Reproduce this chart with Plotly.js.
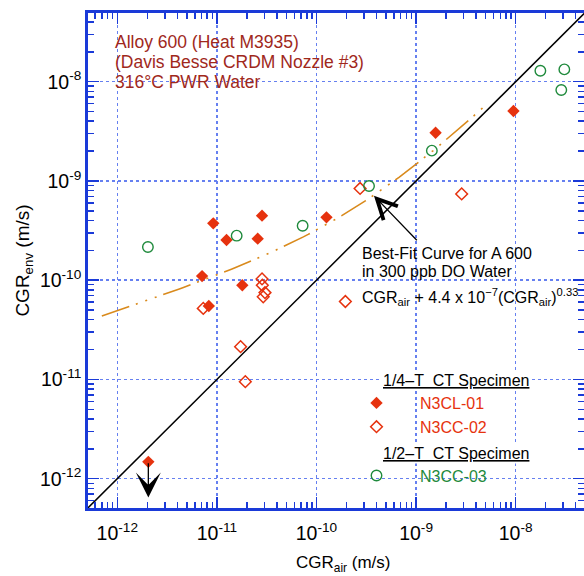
<!DOCTYPE html>
<html>
<head>
<meta charset="utf-8">
<script src="https://cdn.plot.ly/plotly-3.0.1.min.js"></script>
<style>
  html, body { margin: 0; padding: 0; background: #fff; }
  #chart { width: 584px; height: 576px; }
</style>
</head>
<body>
<div id="chart"></div>
<script>
// Crack growth rates, environment vs. air (m/s)
// 1/4-T CT specimen N3CL-01 (first point is an upper bound)
const n3cl01Air = [2.05e-12, 7.1e-12, 8.3e-12, 9.2e-12, 1.25e-11, 1.8e-11, 2.57e-11, 2.84e-11, 1.26e-10, 1.57e-9, 9.5e-9];
const n3cl01Env = [1.48e-12, 1.10e-10, 5.5e-11, 3.74e-10, 2.54e-10, 8.9e-11, 2.62e-10, 4.47e-10, 4.3e-10, 3.06e-9, 5.07e-9];
// 1/4-T CT specimen N3CC-02
const n3cc02Air = [7.3e-12, 2.84e-11, 2.86e-11, 3.04e-11, 2.92e-11, 1.73e-11, 1.93e-11, 2.74e-10, 2.87e-9, 1.95e-10];
const n3cc02Env = [5.2e-11, 1.03e-10, 8.9e-11, 7.5e-11, 6.8e-11, 2.14e-11, 9.5e-12, 8.4e-10, 7.4e-10, 6.1e-11];
// 1/2-T CT specimen N3CC-03
const n3cc03Air = [2.03e-12, 1.58e-11, 7.26e-11, 3.37e-10, 1.44e-9, 1.77e-8, 3.08e-8, 2.87e-8];
const n3cc03Env = [2.16e-10, 2.81e-10, 3.54e-10, 8.9e-10, 2.02e-9, 1.29e-8, 1.33e-8, 8.25e-9];

// Reference line CGRenv = CGRair
const unityLine = [1e-13, 1e-7];

// Best-fit curve for Alloy 600 in 300 ppb DO water: CGRair + A*(CGRair)^n
const fitCoeff = 4.4e-7;
const fitExp = 0.33;
const fitRange = [7e-13, 5e-9];

// Decade tick labels
const tickValues = [1e-12, 1e-11, 1e-10, 1e-9, 1e-8];
const tickLabels = ['10<sup>-12</sup>', '10<sup>-11</sup>', '10<sup>-10</sup>', '10<sup>-9</sup>', '10<sup>-8</sup>'];

// Text blocks
const xTitle = 'CGR<sub>air</sub> (m/s)';
const yTitle = 'CGR<sub>env</sub> (m/s)';
const conditionLines = ['Alloy 600 (Heat M3935)', '(Davis Besse CRDM Nozzle #3)', '316\u00b0C PWR Water'];
const fitLines = ['Best-Fit Curve for A 600', 'in 300 ppb DO Water'];
const fitEquation = 'CGR<sub>air</sub> + 4.4 x 10<sup>\u22127</sup>(CGR<sub>air</sub>)<sup>0.33</sup>';
const groupTitles = ['1/4\u2013T\u00a0 CT Specimen', '1/2\u2013T\u00a0 CT Specimen'];

const RED = '#e6320e';
const GREEN = '#1f8a3c';
const ORANGE = '#d98a1c';
const MAROON = '#a0281c';
const AXIS_BLUE = '#1a3ad8';
const GRID_BLUE = '#6680f0';
const FONT = 'Liberation Sans, Arial, sans-serif';

const fitX = [];
const fitY = [];
const nFit = 80;
const l0 = Math.log10(fitRange[0]), l1 = Math.log10(fitRange[1]);
for (let i = 0; i <= nFit; i++) {
  const x = Math.pow(10, l0 + (l1 - l0) * i / nFit);
  fitX.push(x);
  fitY.push(x + fitCoeff * Math.pow(x, fitExp));
}

const ul = s => '<span style="text-decoration:underline">' + s + '</span>';
const col = (c, s) => '<span style="color:' + c + '">' + s + '</span>';

const traces = [
  {
    x: unityLine, y: unityLine, mode: 'lines', type: 'scatter',
    line: { color: '#000', width: 1.5 }, showlegend: false, hoverinfo: 'skip'
  },
  {
    x: fitX, y: fitY, mode: 'lines', type: 'scatter',
    line: { color: ORANGE, width: 1.6, dash: '29px,7px,2px,8px,2px,8px,2px,7px' },
    showlegend: false, hoverinfo: 'skip'
  },
  {
    x: n3cl01Air, y: n3cl01Env, mode: 'markers', type: 'scatter',
    name: col(RED, 'N3CL-01'), legendgroup: 'quarter',
    marker: { symbol: 'diamond', size: 9.5, color: RED, line: { width: 0 } }
  },
  {
    x: n3cc02Air, y: n3cc02Env, mode: 'markers', type: 'scatter',
    name: col(RED, 'N3CC-02'), legendgroup: 'quarter',
    marker: { symbol: 'diamond-open', size: 9, color: RED, line: { width: 1.5, color: RED } }
  },
  {
    x: n3cc03Air, y: n3cc03Env, mode: 'markers', type: 'scatter',
    name: col(GREEN, 'N3CC-03'), legendgroup: 'half',
    marker: { symbol: 'circle-open', size: 10.5, color: GREEN, line: { width: 1.4, color: GREEN } }
  }
];

const axisCommon = {
  type: 'log',
  tickmode: 'array',
  tickvals: tickValues,
  ticktext: tickLabels,
  ticks: 'inside',
  ticklen: 11,
  tickwidth: 1.5,
  tickcolor: AXIS_BLUE,
  minor: { dtick: 'D1', ticks: 'inside', ticklen: 6, tickwidth: 1.5, tickcolor: AXIS_BLUE, showgrid: false },
  showline: true,
  linecolor: AXIS_BLUE,
  linewidth: 2.8,
  mirror: 'allticks',
  showgrid: true,
  gridcolor: GRID_BLUE,
  gridwidth: 1.5,
  griddash: 'dot',
  zeroline: false,
  tickfont: { family: FONT, size: 19.5, color: '#000' }
};

// plot area in pixels (for placing text boxes)
const PL = 88, PW = 496, PB = 508, PH = 495;
const px = v => (v - PL) / PW;
const py = v => (PB - v) / PH;

// white panels that mask the grid behind text blocks
const panel = (x0, x1, y0, y1) => ({
  type: 'rect', xref: 'paper', yref: 'paper', layer: 'between',
  x0: px(x0), x1: px(x1), y0: py(y1), y1: py(y0),
  fillcolor: '#fff', line: { width: 0 }
});

const textAnn = (text, x, y, size, color, extra) => Object.assign({
  xref: 'paper', yref: 'paper', x: px(x), y: py(y),
  xanchor: 'left', yanchor: 'middle', align: 'left', showarrow: false,
  text: text, font: { family: FONT, size: size, color: color }
}, extra || {});

const annotations = [];
// x-axis title, set a little lower than the default title slot
annotations.push(textAnn(xTitle, 342.5, 563.5, 17, '#000', { xanchor: 'center', align: 'center' }));
conditionLines.forEach((t, i) => annotations.push(textAnn(t, 113, 41.7 + 20.2 * i, 17.5, MAROON)));
annotations.push(textAnn(fitLines[0], 360, 253.3, 16, '#000'));
annotations.push(textAnn(fitLines[1], 360, 271.7, 16, '#000'));
annotations.push(textAnn(fitEquation, 360, 296.5, 16, '#000'));
annotations.push(textAnn(ul(groupTitles[0]), 381, 380, 16, '#000', { bgcolor: '#fff', borderpad: 1 }));
annotations.push(textAnn(ul(groupTitles[1]), 381, 453, 16, '#000', { bgcolor: '#fff', borderpad: 1 }));

// arrow pointing at the best-fit curve
annotations.push({
  xref: 'x', yref: 'y', axref: 'x', ayref: 'y',
  x: -9.423, y: -9.149, ax: -8.978, ay: -9.612,
  text: '', showarrow: true, arrowhead: 5, arrowsize: 3, arrowwidth: 1.3, arrowcolor: '#000'
});
// upper-bound arrow on the lowest N3CL-01 value
const boundTailX = Math.log10(n3cl01Air[0]);
const boundTailY = Math.log10(n3cl01Env[0]);
annotations.push({
  xref: 'x', yref: 'y', axref: 'x', ayref: 'y',
  x: boundTailX, y: boundTailY - 0.36, ax: boundTailX, ay: boundTailY,
  text: '', showarrow: true, arrowhead: 3, arrowsize: 3.2, arrowwidth: 1.3, arrowcolor: '#000'
});

const layout = {
  width: 584,
  height: 576,
  margin: { l: PL, r: 0, t: 13, b: 68 },
  paper_bgcolor: '#fff',
  plot_bgcolor: '#fff',
  font: { family: FONT, color: '#000' },
  hovermode: false,
  xaxis: Object.assign({}, axisCommon, {
    range: [-12.294, -7.314],
    ticklabelstandoff: 6
  }),
  yaxis: Object.assign({}, axisCommon, {
    range: [-12.295, -7.308],
    title: { text: yTitle, font: { family: FONT, size: 19 }, standoff: 6 }
  }),
  legend: {
    x: px(333), y: py(386), xanchor: 'left', yanchor: 'top',
    bgcolor: 'rgba(0,0,0,0)', borderwidth: 0,
    font: { family: FONT, size: 16 },
    itemwidth: 77,
    tracegroupgap: 25,
    traceorder: 'grouped'
  },
  shapes: [
    panel(110, 372, 30, 95),
    panel(358, 584, 186, 312),
    panel(329, 498, 392, 490)
  ],
  annotations: annotations
};

Plotly.newPlot('chart', traces, layout, { staticPlot: true, displayModeBar: false });
</script>
</body>
</html>
